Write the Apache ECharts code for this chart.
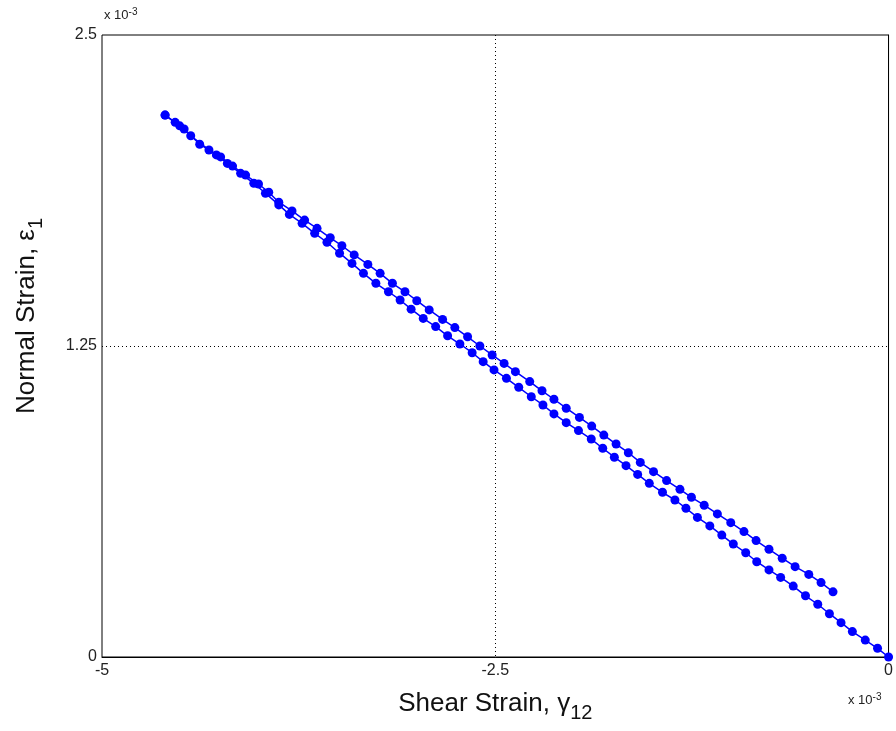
<!DOCTYPE html>
<html>
<head>
<meta charset="utf-8">
<script src="https://cdn.jsdelivr.net/npm/echarts@6/dist/echarts.min.js"></script>
<style>
  html, body { margin: 0; padding: 0; background: #fff; }
  #chart { width: 896px; height: 731px; }
</style>
</head>
<body>
<div id="chart"></div>
<script>
// values in units of 1e-3
var xTicks = [-5, -2.5, 0]
var yTicks = [0, 1.25, 2.5]

// loading branch: from origin up to the top-left point
var loadGamma = [0, -0.070, -0.148, -0.230, -0.302, -0.376, -0.450, -0.528, -0.606, -0.686, -0.760, -0.838, -0.908, -0.987, -1.060, -1.136, -1.215, -1.288, -1.358, -1.437, -1.521, -1.595, -1.669, -1.743, -1.817, -1.890, -1.971, -2.049, -2.127, -2.197, -2.271, -2.351, -2.429, -2.508, -2.577, -2.647, -2.725, -2.803, -2.879, -2.958, -3.035, -3.105, -3.179, -3.259, -3.338, -3.411, -3.490, -3.570, -3.648, -3.728, -3.809, -3.876, -3.961, -4.035, -4.119, -4.203, -4.273, -4.379, -4.478, -4.535, -4.599]
var loadEps = [0, 0.035, 0.068, 0.102, 0.138, 0.174, 0.212, 0.246, 0.285, 0.320, 0.350, 0.383, 0.419, 0.454, 0.490, 0.527, 0.561, 0.598, 0.631, 0.662, 0.698, 0.734, 0.769, 0.803, 0.839, 0.876, 0.910, 0.942, 0.977, 1.013, 1.046, 1.084, 1.120, 1.154, 1.187, 1.223, 1.258, 1.291, 1.328, 1.361, 1.398, 1.435, 1.468, 1.502, 1.542, 1.582, 1.623, 1.667, 1.703, 1.743, 1.779, 1.817, 1.864, 1.904, 1.944, 1.984, 2.018, 2.061, 2.122, 2.149, 2.178]

// unloading branch: back down from the top-left point
var unloadGamma = [-4.599, -4.506, -4.436, -4.320, -4.246, -4.170, -4.087, -4.005, -3.940, -3.876, -3.792, -3.712, -3.633, -3.549, -3.475, -3.397, -3.310, -3.232, -3.154, -3.074, -2.999, -2.920, -2.835, -2.757, -2.676, -2.598, -2.520, -2.444, -2.372, -2.281, -2.203, -2.127, -2.049, -1.965, -1.887, -1.810, -1.732, -1.654, -1.578, -1.494, -1.411, -1.326, -1.253, -1.172, -1.088, -1.003, -0.919, -0.842, -0.760, -0.676, -0.594, -0.507, -0.429, -0.353]
var unloadEps = [2.178, 2.135, 2.095, 2.038, 2.010, 1.973, 1.937, 1.901, 1.868, 1.828, 1.793, 1.756, 1.723, 1.685, 1.653, 1.616, 1.578, 1.542, 1.502, 1.468, 1.432, 1.395, 1.357, 1.324, 1.287, 1.250, 1.214, 1.180, 1.147, 1.107, 1.070, 1.036, 1.000, 0.963, 0.928, 0.892, 0.856, 0.821, 0.782, 0.745, 0.709, 0.674, 0.642, 0.610, 0.575, 0.540, 0.504, 0.468, 0.433, 0.397, 0.363, 0.332, 0.299, 0.262]

function zip(xs, ys) {
  return xs.map(function (x, i) { return [x, ys[i]] })
}

var font = 'Liberation Sans, Arial, sans-serif'
var blue = '#0000ff'

var nameRich = {
  t: { fontFamily: font, fontSize: 26, color: '#111', lineHeight: 30 },
  s: { fontFamily: font, fontSize: 20, color: '#111', padding: [18, 0, 0, 0], lineHeight: 30 }
}
var expRich = {
  a: { fontFamily: font, fontSize: 13, fill: '#222', padding: [6, 0, 0, 0] },
  b: { fontFamily: font, fontSize: 10, fill: '#222' }
}

var chart = echarts.init(document.getElementById('chart'))
chart.setOption({
  animation: false,
  backgroundColor: '#fff',
  grid: {
    left: 101, right: 6, top: 35, bottom: 74,
    show: true, borderColor: '#000', borderWidth: 1
  },
  xAxis: {
    type: 'value',
    min: xTicks[0], max: xTicks[xTicks.length - 1], interval: 2.5,
    axisLine: { show: true, lineStyle: { color: '#000', width: 1 } },
    axisTick: { show: false },
    axisLabel: { color: '#222', fontFamily: font, fontSize: 16, margin: 6 },
    splitLine: {
      show: true, showMinLine: false, showMaxLine: false,
      lineStyle: { color: '#000', type: [1, 3], width: 1 }
    },
    name: '{t|Shear Strain, γ}{s|12}',
    nameLocation: 'middle',
    nameGap: 32,
    nameTextStyle: { rich: nameRich }
  },
  yAxis: {
    type: 'value',
    min: yTicks[0], max: yTicks[yTicks.length - 1], interval: 1.25,
    axisLine: { show: true, lineStyle: { color: '#000', width: 1 } },
    axisTick: { show: false },
    axisLabel: { color: '#222', fontFamily: font, fontSize: 16, margin: 5 },
    splitLine: {
      show: true, showMinLine: false, showMaxLine: false,
      lineStyle: { color: '#000', type: [1, 3], width: 1 }
    },
    name: '{t|Normal Strain, ε}{s|1}',
    nameLocation: 'middle',
    nameRotate: 90,
    nameGap: 60,
    nameTextStyle: { padding: [0, 0, 0, 60], rich: nameRich }
  },
  graphic: [
    {
      type: 'text', left: 104, top: 7,
      style: { text: '{a|x 10}{b|-3}', rich: expRich }
    },
    {
      type: 'text', left: 848, top: 692,
      style: { text: '{a|x 10}{b|-3}', rich: expRich }
    }
  ],
  series: [
    {
      type: 'line',
      data: zip(loadGamma, loadEps),
      symbol: 'circle', symbolSize: 9,
      itemStyle: { color: blue },
      lineStyle: { color: blue, width: 1.5 },
      clip: false
    },
    {
      type: 'line',
      data: zip(unloadGamma, unloadEps),
      symbol: 'circle', symbolSize: 9,
      itemStyle: { color: blue },
      lineStyle: { color: blue, width: 1.5 },
      clip: false
    }
  ]
})
</script>
</body>
</html>
